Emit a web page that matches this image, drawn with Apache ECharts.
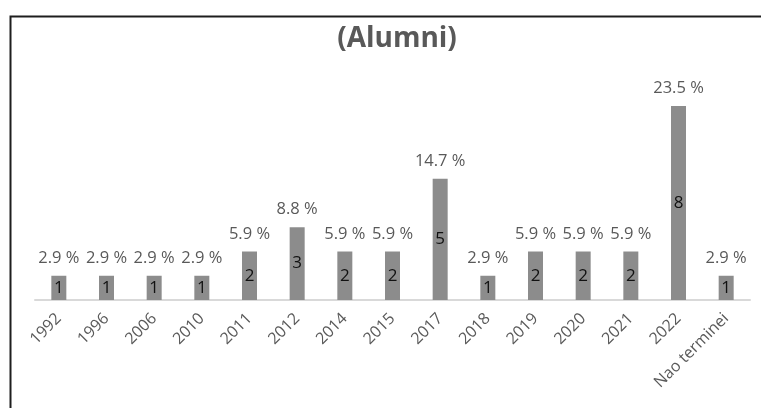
<!DOCTYPE html>
<html>
<head>
<meta charset="utf-8">
<script src="https://cdn.jsdelivr.net/npm/echarts@6/dist/echarts.min.js"></script>
<style>
  html, body { margin: 0; padding: 0; background: #fff; }
  #chart { width: 761px; height: 408px; }
</style>
</head>
<body>
<div id="chart"></div>
<script>
const categories = ['1992', '1996', '2006', '2010', '2011', '2012', '2014', '2015', '2017', '2018', '2019', '2020', '2021', '2022', 'Nao terminei']
const counts = [1, 1, 1, 1, 2, 3, 2, 2, 5, 1, 2, 2, 2, 8, 1]
const percentLabels = ['2.9 %', '2.9 %', '2.9 %', '2.9 %', '5.9 %', '8.8 %', '5.9 %', '5.9 %', '14.7 %', '2.9 %', '5.9 %', '5.9 %', '5.9 %', '23.5 %', '2.9 %']

const chart = echarts.init(document.getElementById('chart'))
const font = '"Open Sans", "Noto Sans", sans-serif'
const option = {
  animation: false,
  textStyle: { fontFamily: font },
  title: {
    text: '(Alumni)',
    left: 392,
    textAlign: 'center',
    top: 20,
    textStyle: {
      fontFamily: font,
      fontSize: 28,
      fontWeight: 'bold',
      color: '#595959'
    }
  },
  graphic: [
    {
      type: 'rect',
      left: 8,
      top: 14,
      shape: { width: 800, height: 500 },
      style: { fill: 'none', stroke: '#1e1e1e', lineWidth: 2 },
      silent: true
    }
  ],
  grid: {
    top: 106,
    left: 35,
    right: 11,
    bottom: 108
  },
  xAxis: {
    type: 'category',
    data: categories,
    axisTick: { show: false },
    axisLine: {
      lineStyle: { color: '#d9d9d9', width: 2 }
    },
    axisLabel: {
      rotate: 45,
      interval: 0,
      margin: 16,
      color: '#595959',
      fontSize: 16,
      fontFamily: font
    }
  },
  yAxis: {
    type: 'value',
    min: 0,
    max: 8,
    show: false
  },
  series: [
    {
      type: 'bar',
      data: counts,
      barWidth: 15,
      itemStyle: { color: '#8c8c8c' },
      label: {
        show: true,
        position: 'inside',
        color: '#111',
        fontSize: 17,
        fontFamily: font
      },
      z: 2
    },
    {
      // invisible copy that carries the percentage label above each bar
      type: 'bar',
      data: counts,
      barWidth: 15,
      barGap: '-100%',
      itemStyle: { color: 'transparent' },
      label: {
        show: true,
        position: 'top',
        distance: 9,
        color: '#595959',
        fontSize: 16.5,
        fontFamily: font,
        formatter: p => percentLabels[p.dataIndex]
      },
      z: 3
    }
  ]
}
chart.setOption(option)
</script>
</body>
</html>
